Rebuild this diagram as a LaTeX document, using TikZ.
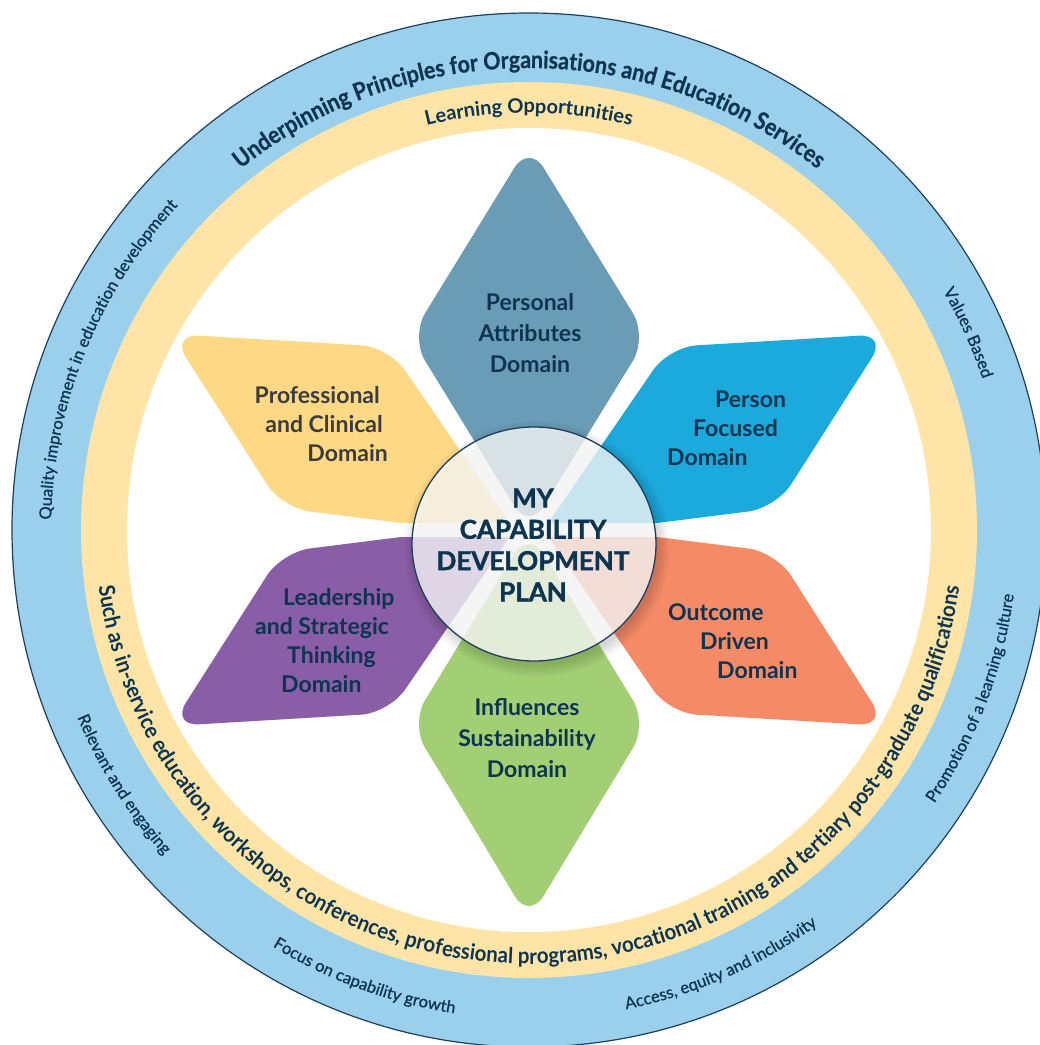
\documentclass[tikz,border=0pt]{standalone}
\usepackage{fontspec}
\setmainfont{Lato}
\newfontfamily\heavyfont{Lato}[BoldFeatures={FakeBold=1.6}]
\newfontfamily\arcfont{Lato}[FakeStretch=0.89,BoldFeatures={FakeStretch=0.89,FakeBold=0.6}]
\newfontfamily\bandfont{Lato}[FakeStretch=0.93,BoldFeatures={FakeStretch=0.93}]
\newfontfamily\medfont{Lato}[FakeBold=0.9]
\usetikzlibrary{decorations.text,shapes.geometric}
\definecolor{navy}{HTML}{0D3450}
\definecolor{ringblue}{HTML}{9BD0EC}
\definecolor{ringyellow}{HTML}{FEE5A7}
\definecolor{pSteel}{HTML}{6A9CB5}
\definecolor{pBlue}{HTML}{1CA9DB}
\definecolor{pOrange}{HTML}{F58A67}
\definecolor{pGreen}{HTML}{A3CF74}
\definecolor{pPurple}{HTML}{8A5EA7}
\definecolor{pYellow}{HTML}{FDD985}
\definecolor{grayText}{HTML}{3C3C3C}
\definecolor{hubline}{HTML}{1D3F5C}
\begin{document}
\begin{tikzpicture}[x=1pt,y=1pt,
  petal/.style={rounded corners=28pt},
  ptext/.style={text=navy,font=\fontsize{23}{29}\bfseries\selectfont,inner sep=0pt},
  ptextwide/.style={text=navy,font=\fontsize{23}{31}\bfseries\selectfont,inner sep=0pt}]
\useasboundingbox (-529,-515) rectangle (511,530);
\clip (-529,-515) rectangle (511,530);
\fill[white] (-529,-515) rectangle (511,530);
\coordinate (C) at (0,0);
% rings
\fill[ringblue] (C) circle (517);
\fill[ringyellow] (C) circle (448);
\fill[white] (C) circle (402);
\draw[hubline,line width=1.2pt] (C) circle (517);
% petals
\fill[pSteel,petal] (-59.25,289.5) -- (-118.5,193) -- (0,0) -- (118.5,193) -- (0,386) -- cycle;
\fill[pGreen,petal] (-59.25,-291) -- (-118.5,-194) -- (0,0) -- (118.5,-194) -- (0,-390) -- cycle;
\fill[pBlue,petal] (249,189.5) -- (140,183) -- (9,-8) -- (247,22) -- (358,196) -- cycle;
\fill[pOrange,petal] (249,-189.5) -- (140,-183) -- (9,8) -- (247,-22) -- (358,-196) -- cycle;
\fill[pYellow,petal] (-249,189.5) -- (-140,183) -- (-9,-8) -- (-247,22) -- (-358,196) -- cycle;
\fill[pPurple,petal] (-249,-189.5) -- (-140,-183) -- (-9,8) -- (-247,-22) -- (-358,-196) -- cycle;
\fill[white] (-260,-7) rectangle (260,7);
% hub shadow
\foreach \i in {1,...,8}
  \fill[black,opacity=0.02] (8,-19) ellipse ({120+1.6*\i} and {115+1.6*\i});
\node (hub) [ellipse,minimum width=244pt,minimum height=234pt,inner sep=0pt,
  fill=white,fill opacity=0.77,draw=hubline,line width=1.3pt] at (5,-14) {};
\node (hubtext) [align=center,text=navy,font=\heavyfont\fontsize{26}{31.3}\bfseries\selectfont]
  at (4,-15) {MY\\CAPABILITY\\DEVELOPMENT\\PLAN};
% petal labels
\node (lblPA) [ptextwide,align=center] at (1,197) {Personal\\Attributes\\Domain};
\node (lblPF) [ptext,align=left,anchor=west] at (138,102)
  {\hspace*{48pt}Person\\\hspace*{26pt}Focused\\Domain};
\node (lblPC) [ptext,align=right,anchor=east,text=grayText] at (-141,106)
  {Professional\kern8pt\\and Clinical\kern5pt\\Domain};
\node (lblOD) [ptext,align=left,anchor=west] at (139,-111)
  {Outcome\\\hspace*{32pt}Driven\\\hspace*{49pt}Domain};
\node (lblLS) [ptext,align=left,anchor=west] at (-274,-111)
  {\hspace*{28pt}Leadership\\and Strategic\\\hspace*{32pt}Thinking\\\hspace*{26pt}Domain};
\node (lblIS) [ptextwide,align=center] at (-2,-208) {Influences\\Sustainability\\Domain};
% curved texts
\path[decorate,decoration={text along path,text align=center,
  text={|\arcfont\fontsize{24}{24}\bfseries\selectfont\color{navy}|Underpinning Principles for Organisations and Education Services}}]
  (180:462) arc[start angle=180,end angle=0,radius=462];
\path[decorate,decoration={text along path,text align=center,
  text={|\fontsize{20}{20}\bfseries\selectfont\color{navy}|Learning Opportunities}}]
  (180:417) arc[start angle=180,end angle=0,radius=417];
\path[decorate,decoration={text along path,text align=center,
  text={|\bandfont\fontsize{22}{22}\bfseries\selectfont\color{navy}|Such as in-service education, workshops, conferences, professional programs, vocational training and tertiary post-graduate qualifications}}]
  (170:434) arc[start angle=170,end angle=370,radius=434];
\path[decorate,decoration={text along path,text align=center,
  text={|\medfont\fontsize{16.5}{16.5}\selectfont\color{navy}|Quality improvement in education development}}]
  (205:478) arc[start angle=205,end angle=111,radius=478];
\path[decorate,decoration={text along path,text align=center,
  text={|\medfont\fontsize{16.5}{16.5}\selectfont\color{navy}|Values Based}}]
  (50:478) arc[start angle=50,end angle=-1.6,radius=478];
\path[decorate,decoration={text along path,text align=center,
  text={|\medfont\fontsize{16.5}{16.5}\selectfont\color{navy}|Promotion of a learning culture}}]
  (-47:489) arc[start angle=-47,end angle=5.4,radius=489];
\path[decorate,decoration={text along path,text align=center,
  text={|\medfont\fontsize{16.5}{16.5}\selectfont\color{navy}|Access, equity and inclusivity}}]
  (-92:489) arc[start angle=-92,end angle=-40.4,radius=489];
\path[decorate,decoration={text along path,text align=center,
  text={|\medfont\fontsize{16.5}{16.5}\selectfont\color{navy}|Focus on capability growth}}]
  (225:489) arc[start angle=225,end angle=274.6,radius=489];
\path[decorate,decoration={text along path,text align=center,
  text={|\medfont\fontsize{16.5}{16.5}\selectfont\color{navy}|Relevant and engaging}}]
  (190:489) arc[start angle=190,end angle=234.2,radius=489];
\end{tikzpicture}
\end{document}
